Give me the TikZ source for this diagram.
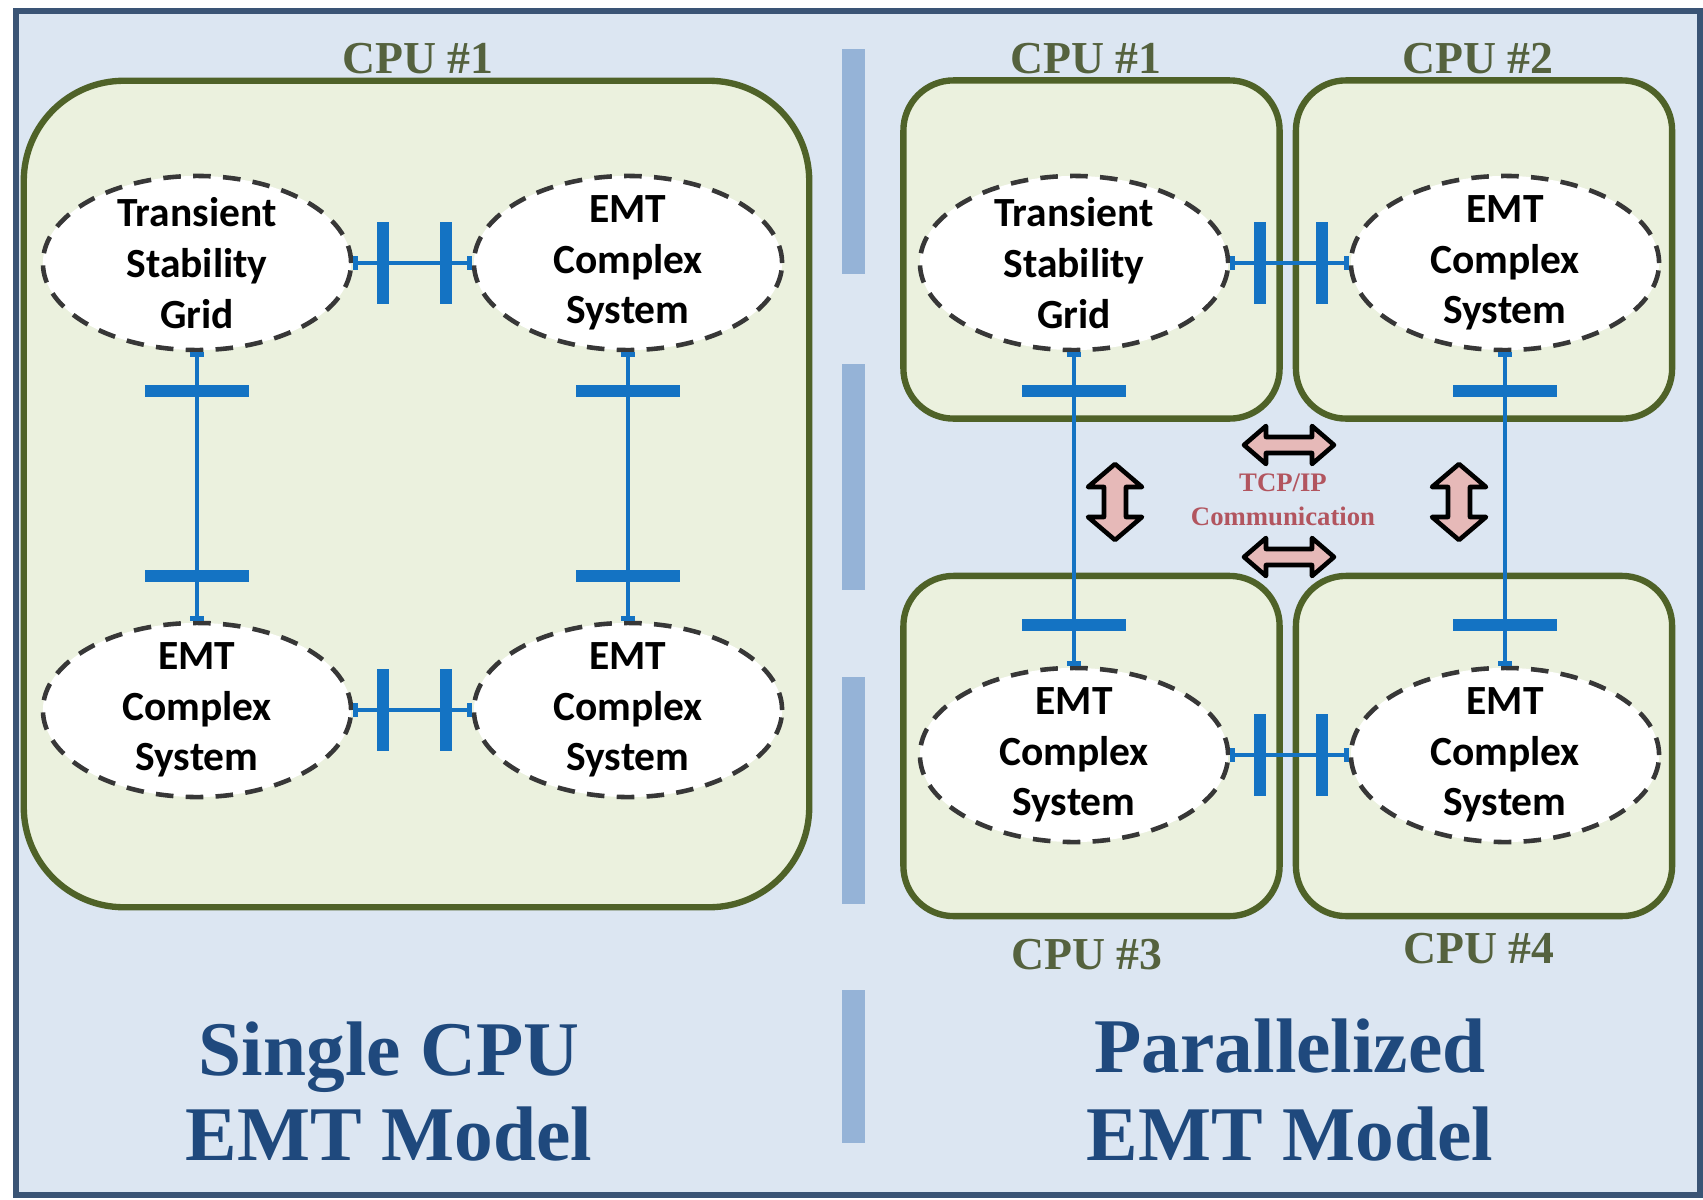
\documentclass[tikz,border=0pt]{standalone}
\usepackage{fontspec}
\setmainfont{Liberation Serif}
\newfontfamily\carl{Carlito}
\usetikzlibrary{shapes.geometric,arrows.meta}
\definecolor{bgblue}{RGB}{220,230,242}
\definecolor{framec}{RGB}{58,84,117}
\definecolor{gfill}{RGB}{235,241,222}
\definecolor{gline}{RGB}{79,98,40}
\definecolor{dashgray}{RGB}{55,55,55}
\definecolor{busblue}{RGB}{20,115,195}
\definecolor{divc}{RGB}{149,179,215}
\definecolor{cpuc}{RGB}{85,98,62}
\definecolor{titlec}{RGB}{31,73,125}
\definecolor{tcpc}{RGB}{178,85,95}
\definecolor{arrfill}{RGB}{230,185,184}
\begin{document}
\begin{tikzpicture}[x=0.01cm,y=-0.01cm,
  gbig/.style={draw=gline, fill=gfill, line width=1.8pt, rounded corners=1cm,
    minimum width=7.85cm, minimum height=8.26cm, inner sep=0pt},
  gsmall/.style={draw=gline, fill=gfill, line width=1.8pt, rounded corners=0.5cm,
    minimum width=3.76cm, minimum height=3.38cm, inner sep=0pt},
  sub/.style={ellipse, draw=dashgray, fill=white, line width=1.3pt,
    dash pattern=on 5pt off 3.5pt, minimum width=3.08cm, minimum height=1.74cm, inner sep=0pt},
  subtext/.style={align=center, inner sep=0pt, text=black,
    font=\carl\bfseries\fontsize{11.8}{14.4}\selectfont},
  cpulabel/.style={anchor=base, text=cpuc, inner sep=0pt,
    font=\bfseries\fontsize{13}{15}\selectfont},
  title/.style={anchor=base, text=titlec, inner sep=0pt,
    font=\bfseries\fontsize{22}{25}\selectfont},
  bus/.style={draw=busblue, line width=1.3pt, {Bar[width=4pt]}-{Bar[width=4pt]}},
  vbar/.style={fill=busblue, inner sep=0pt, minimum width=0.12cm, minimum height=0.82cm},
  hbar/.style={fill=busblue, inner sep=0pt, minimum width=1.03cm, minimum height=0.12cm},
  darr/.style={draw=black, fill=arrfill, line width=1.3pt, line join=round},
  divbar/.style={fill=divc}
]
\useasboundingbox (0,0) rectangle (1703,1200);
\fill[white] (0,0) rectangle (1703,1200);
\draw[line width=1.7pt, draw=framec, fill=bgblue] (16,11) rectangle (1700,1195);

% divider
\fill[divbar] (842,49) rectangle (865,274);
\fill[divbar] (842,364) rectangle (865,590);
\fill[divbar] (842,677) rectangle (865,904);
\fill[divbar] (842,990) rectangle (865,1143);

% CPU boxes
\node[gbig] (cpuL) at (416.5,494) {};
\node[gsmall] (cpu1) at (1091.5,249.5) {};
\node[gsmall] (cpu2) at (1484,249.5) {};
\node[gsmall, minimum height=3.40cm] (cpu3) at (1091.5,746) {};
\node[gsmall, minimum height=3.40cm] (cpu4) at (1484,746) {};

% CPU labels
\node[cpulabel] (lL) at (418,73) {CPU \#1};
\node[cpulabel] (l1) at (1086,73) {CPU \#1};
\node[cpulabel] (l2) at (1478,73) {CPU \#2};
\node[cpulabel] (l3) at (1087,969) {CPU \#3};
\node[cpulabel] (l4) at (1479,963) {CPU \#4};

% Left panel subsystems
\node[sub] (tl) at (197,263) {};
\node[sub] (tr) at (628,263) {};
\node[sub] (bl) at (197,710) {};
\node[sub] (br) at (628,710) {};
\node[subtext] (tlt) at (tl) {Transient\\Stability\\Grid};
\node[subtext] (trt) at (tr) {EMT\\Complex\\System};
\node[subtext] (blt) at (bl) {EMT\\Complex\\System};
\node[subtext] (brt) at (br) {EMT\\Complex\\System};

% Left panel connectors
\draw[bus] (tl.east) -- node[pos=.25,vbar] (a1) {} node[pos=.78,vbar] (a2) {} (tr.west);
\draw[bus] (bl.east) -- node[pos=.25,vbar] (a3) {} node[pos=.78,vbar] (a4) {} (br.west);
\draw[bus] (tl.south) -- node[pos=.143,hbar] (a5) {} node[pos=.835,hbar] (a6) {} (bl.north);
\draw[bus] (tr.south) -- node[pos=.143,hbar] (a7) {} node[pos=.835,hbar] (a8) {} (br.north);

% Right panel subsystems
\node[sub] (r1) at (1074,263) {};
\node[sub] (r2) at (1505,263) {};
\node[sub] (r3) at (1074,755) {};
\node[sub] (r4) at (1505,755) {};
\node[subtext] (r1t) at (r1) {Transient\\Stability\\Grid};
\node[subtext] (r2t) at (r2) {EMT\\Complex\\System};
\node[subtext] (r3t) at (r3) {EMT\\Complex\\System};
\node[subtext] (r4t) at (r4) {EMT\\Complex\\System};

% Right panel connectors
\draw[bus] (r1.east) -- node[pos=.25,vbar] (b1) {} node[pos=.774,vbar] (b2) {} (r2.west);
\draw[bus] (r3.east) -- node[pos=.25,vbar] (b3) {} node[pos=.774,vbar] (b4) {} (r4.west);
\draw[bus] (r1.south) -- node[pos=.123,hbar] (b5) {} node[pos=.871,hbar] (b6) {} (r3.north);
\draw[bus] (r2.south) -- node[pos=.123,hbar] (b7) {} node[pos=.871,hbar] (b8) {} (r4.north);

% Communication arrows
\begin{scope}[shift={(1115,502)}]
\draw[darr] (0,-38) -- (27,-15) -- (11,-15) -- (11,15) -- (27,15) -- (0,38)
  -- (-27,15) -- (-11,15) -- (-11,-15) -- (-27,-15) -- cycle;
\end{scope}
\begin{scope}[shift={(1459,502)}]
\draw[darr] (0,-38) -- (27,-15) -- (11,-15) -- (11,15) -- (27,15) -- (0,38)
  -- (-27,15) -- (-11,15) -- (-11,-15) -- (-27,-15) -- cycle;
\end{scope}
\begin{scope}[shift={(1289,445)}]
\draw[darr] (-45,0) -- (-23,-19) -- (-23,-8) -- (23,-8) -- (23,-19) -- (45,0)
  -- (23,19) -- (23,8) -- (-23,8) -- (-23,19) -- cycle;
\end{scope}
\begin{scope}[shift={(1289,557)}]
\draw[darr] (-45,0) -- (-23,-19) -- (-23,-8) -- (23,-8) -- (23,-19) -- (45,0)
  -- (23,19) -- (23,8) -- (-23,8) -- (-23,19) -- cycle;
\end{scope}
\node[align=center, text=tcpc, inner sep=0pt,
  font=\bfseries\fontsize{7.6}{9.7}\selectfont] (tcp) at (1283,500) {TCP/IP\\Communication};

% Titles
\node[title] (t1a) at (389,1075) {Single CPU};
\node[title] (t1b) at (389,1160) {EMT Model};
\node[title] (t2a) at (1290,1072) {Parallelized};
\node[title] (t2b) at (1290,1160) {EMT Model};
\end{tikzpicture}
\end{document}
